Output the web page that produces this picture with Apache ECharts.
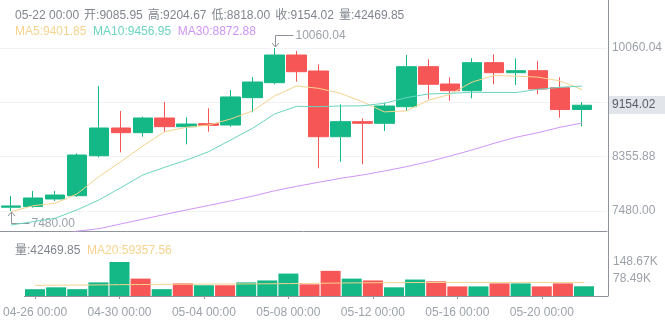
<!DOCTYPE html>
<html>
<head>
<meta charset="utf-8">
<script src="https://cdn.jsdelivr.net/npm/echarts@6/dist/echarts.min.js"></script>
<style>
  html, body { margin: 0; padding: 0; background: #ffffff; }
  #chart { width: 665px; height: 329px; }
</style>
</head>
<body>
<div id="chart"></div>
<script>
// Daily candles, 04-26 .. 05-22
const dates = [
  '04-26 00:00', '04-27 00:00', '04-28 00:00', '04-29 00:00', '04-30 00:00',
  '05-01 00:00', '05-02 00:00', '05-03 00:00', '05-04 00:00', '05-05 00:00',
  '05-06 00:00', '05-07 00:00', '05-08 00:00', '05-09 00:00', '05-10 00:00',
  '05-11 00:00', '05-12 00:00', '05-13 00:00', '05-14 00:00', '05-15 00:00',
  '05-16 00:00', '05-17 00:00', '05-18 00:00', '05-19 00:00', '05-20 00:00',
  '05-21 00:00', '05-22 00:00'
];
const openPrices = [
  7540, 7552, 7670, 7722, 8355, 8794, 8720, 8952, 8814, 8862,
  8841, 9274, 9511, 9949, 9696, 8656, 8894, 8868, 9131, 9764,
  9490, 9384, 9828, 9669, 9701, 9432, 9085.95
];
const closePrices = [
  7560, 7686, 7733, 8366, 8794, 8720, 8952, 8815, 8857, 8836,
  9285, 9522, 9949, 9685, 8656, 8894, 8868, 9142, 9764, 9486,
  9384, 9828, 9669, 9701, 9411, 9086, 9154.02
];
const lowPrices = [
  7480.00, 7532, 7638, 7706, 8330, 8409, 8656, 8731, 8536, 8735,
  8814, 9042, 9486, 9527, 8156, 8260, 8219, 8746, 9063, 9248,
  9226, 9264, 9486, 9475, 9327, 8957, 8818.00
];
const highPrices = [
  7717, 7797, 7797, 8393, 9459, 9063, 8973, 9205, 8963, 9106,
  9395, 9601, 10060.04, 10013, 9802, 9169, 8947, 9194, 9949, 9881,
  9596, 9897, 9961, 9897, 9854, 9596, 9204.67
];
const volumes = [
  29700, 38000, 30000, 59500, 148670, 76000, 30000, 55000, 47000, 47000,
  59500, 68000, 98000, 51000, 110000, 76000, 68000, 38000, 72000, 64000,
  42000, 42000, 55000, 55000, 42000, 55000, 42469.85
];
const ma5 = [
  7469, 7564, 7602, 7749, 8023, 8260, 8509, 8735, 8805, 8841,
  8936, 9063, 9300, 9459, 9422, 9343, 9210, 9049, 9065, 9231,
  9329, 9521, 9626, 9614, 9599, 9539, 9401.85
];
const ma10 = [
  7258, 7311, 7364, 7496, 7654, 7849, 8050, 8172, 8287, 8419,
  8604, 8789, 9015, 9137, 9131, 9142, 9145, 9185, 9274, 9332,
  9343, 9359, 9355, 9355, 9406, 9438, 9456.95
];
const ma30 = [
  6960, 7020, 7080, 7160, 7200, 7275, 7350, 7425, 7497, 7568,
  7640, 7715, 7800, 7870, 7934, 7997, 8050, 8113, 8181, 8260,
  8351, 8446, 8552, 8647, 8720, 8805, 8872.88
];
const volMa20 = [
  46700, 47200, 47800, 48500, 49500, 50200, 50800, 51300, 51800, 52300,
  52800, 53400, 54200, 55000, 56200, 57200, 57900, 58400, 58800, 59000,
  59200, 59300, 59300, 59400, 59300, 59300, 59357.56
];
const priceTickLabels = ['7480.00', '8355.88', '', '10060.04'];
const volumeTickLabels = ['78.49K', '148.67K'];
const dateTickIndex = [0, 4, 8, 12, 16, 20, 24];

const UP = '#14b886';
const DOWN = '#f65656';
const FRAME = '#8f949c';
const AXIS_TEXT = '#9da2aa';
const HEAD_TEXT = '#80858e';
const SPLIT = '#f1f2f4';
const C_MA5 = '#f5d38e';
const C_MA10 = '#6cd4c1';
const C_MA30 = '#cf95f7';
const FONT = "'Liberation Sans', 'Noto Sans CJK SC', sans-serif";

const last = dates.length - 1;
const lo = Math.min(...lowPrices);
const hi = Math.max(...highPrices);
const loIdx = lowPrices.indexOf(lo);
const hiIdx = highPrices.indexOf(hi);
const span = hi - lo;
const pad = span * 20 / 163;
const priceGridValues = [0, 1, 2, 3].map(k => lo + span * k / 3);
const volMax = Math.max(...volumes);
const volGridValues = [volMax / 2, volMax];

const xMin = -0.5;
const xMax = last + 0.5 + 14 / 22;

const candleData = dates.map((d, i) => [i, openPrices[i], closePrices[i], lowPrices[i], highPrices[i]]);
const toLine = arr => arr.map((v, i) => [i, v]);
const volumeData = volumes.map((v, i) => ({
  value: [i, v],
  itemStyle: { color: closePrices[i] >= openPrices[i] ? UP : DOWN }
}));

function pickLabel(values, labels) {
  return function (v) {
    for (let k = 0; k < values.length; k++) {
      if (Math.abs(values[k] - v) < 1e-6 * Math.max(1, Math.abs(v))) return labels[k];
    }
    return '';
  };
}

const f2 = v => Number(v).toFixed(2);
const headItems = [
  dates[last],
  '开:' + f2(openPrices[last]),
  '高:' + f2(highPrices[last]),
  '低:' + f2(lowPrices[last]),
  '收:' + f2(closePrices[last]),
  '量:' + f2(volumes[last])
];
const headLine = headItems.map((t, k) => '{' + (k < headItems.length - 1 ? 's' : 'e') + '|' + t + '}').join('');

const chart = echarts.init(document.getElementById('chart'), null, { renderer: 'canvas' });

chart.setOption({
  animation: false,
  backgroundColor: '#ffffff',
  textStyle: { fontFamily: FONT },
  grid: [
    { left: 0, right: 57, top: 28, height: 203 },
    { left: 0, right: 57, top: 245, height: 51 }
  ],
  xAxis: [
    {
      type: 'value', gridIndex: 0, min: xMin, max: xMax,
      axisLine: { show: true, onZero: false, lineStyle: { color: FRAME, width: 1 } },
      axisTick: { show: false }, axisLabel: { show: false }, splitLine: { show: false }
    },
    {
      type: 'value', gridIndex: 1, min: xMin, max: xMax,
      axisLine: { show: true, onZero: false, lineStyle: { color: FRAME, width: 1 } },
      axisTick: { show: true, length: 3, customValues: dateTickIndex, lineStyle: { color: FRAME } },
      axisLabel: {
        customValues: dateTickIndex, margin: 11, color: AXIS_TEXT, fontSize: 12, fontFamily: FONT,
        formatter: v => dates[Math.round(v)] || ''
      },
      splitLine: { show: false }
    }
  ],
  yAxis: [
    {
      type: 'value', gridIndex: 0, position: 'right', min: lo - pad, max: hi + pad, scale: true,
      axisLine: { show: false },
      axisTick: { show: false, customValues: priceGridValues },
      axisLabel: {
        customValues: priceGridValues, margin: 5, color: AXIS_TEXT, fontSize: 12, fontFamily: FONT,
        formatter: pickLabel(priceGridValues, priceTickLabels)
      },
      splitLine: { show: true, lineStyle: { color: SPLIT, width: 1 } }
    },
    {
      type: 'value', gridIndex: 1, position: 'right', min: 0, max: volMax * 1.5,
      axisLine: { show: false },
      axisTick: { show: false, customValues: volGridValues },
      axisLabel: {
        customValues: volGridValues, margin: 5, color: AXIS_TEXT, fontSize: 12, fontFamily: FONT,
        formatter: pickLabel(volGridValues, volumeTickLabels)
      },
      splitLine: { show: true, showMinLine: false, showMaxLine: false, lineStyle: { color: SPLIT, width: 1 } }
    }
  ],
  series: [
    {
      name: 'K', type: 'candlestick', xAxisIndex: 0, yAxisIndex: 0,
      dimensions: ['idx', 'open', 'close', 'lowest', 'highest'],
      encode: { x: 0, y: [1, 2, 3, 4] },
      barWidth: 20,
      data: candleData,
      itemStyle: { color: UP, color0: DOWN, borderColor: UP, borderColor0: DOWN, borderWidth: 1 }
    },
    { name: 'MA5', type: 'line', xAxisIndex: 0, yAxisIndex: 0, data: toLine(ma5), symbol: 'none',
      lineStyle: { color: C_MA5, width: 1 }, itemStyle: { color: C_MA5 } },
    { name: 'MA10', type: 'line', xAxisIndex: 0, yAxisIndex: 0, data: toLine(ma10), symbol: 'none',
      lineStyle: { color: C_MA10, width: 1 }, itemStyle: { color: C_MA10 } },
    { name: 'MA30', type: 'line', xAxisIndex: 0, yAxisIndex: 0, data: toLine(ma30), symbol: 'none',
      lineStyle: { color: C_MA30, width: 1 }, itemStyle: { color: C_MA30 } },
    {
      // high / low callouts with arrow and value text
      name: 'extremes', type: 'custom', xAxisIndex: 0, yAxisIndex: 0, silent: true, clip: false,
      encode: { x: 0, y: 1 },
      data: [[hiIdx, hi, 1], [loIdx, lo, -1]],
      renderItem: function (params, api) {
        const v = api.value(1);
        const dir = api.value(2);
        const p = api.coord([api.value(0), v]);
        const x = Math.round(p[0]) + 0.5;
        const tip = dir > 0 ? p[1] - 1 : p[1] + 1;
        const elbowY = Math.round(dir > 0 ? p[1] - 13 : p[1] + 12) + 0.5;
        const ah = dir > 0 ? -4 : 4;
        return {
          type: 'group',
          children: [
            { type: 'polyline', shape: { points: [[x + 18, elbowY], [x, elbowY], [x, tip]] },
              style: { stroke: FRAME, fill: null, lineWidth: 1 } },
            { type: 'polyline', shape: { points: [[x - 3.5, tip + ah], [x, tip], [x + 3.5, tip + ah]] },
              style: { stroke: FRAME, fill: null, lineWidth: 1 } },
            { type: 'text', x: x + 20, y: elbowY,
              style: { text: f2(v), fill: AXIS_TEXT, fontSize: 12, fontFamily: FONT, verticalAlign: 'middle' } }
          ]
        };
      }
    },
    {
      // last-price tag on the right price scale
      name: 'lastPrice', type: 'custom', xAxisIndex: 0, yAxisIndex: 0, silent: true, clip: false,
      encode: { x: 0, y: 1 },
      data: [[xMax, closePrices[last]]],
      renderItem: function (params, api) {
        const v = api.value(1);
        const p = api.coord([api.value(0), v]);
        const x = Math.round(p[0]) + 2;
        const y = Math.round(p[1]);
        return {
          type: 'group',
          children: [
            { type: 'rect', shape: { x: x, y: y - 9, width: 57, height: 18 },
              style: { fill: '#e2e5e9' } },
            { type: 'text', x: x + 3, y: y,
              style: { text: f2(v), fill: '#575e6a', fontSize: 12, fontFamily: FONT, verticalAlign: 'middle' } }
          ]
        };
      }
    },
    {
      name: 'VOL', type: 'bar', xAxisIndex: 1, yAxisIndex: 1, barWidth: 20,
      data: volumeData
    },
    { name: 'MA20', type: 'line', xAxisIndex: 1, yAxisIndex: 1, data: toLine(volMa20), symbol: 'none',
      lineStyle: { color: C_MA5, width: 1 }, itemStyle: { color: C_MA5 } }
  ],
  graphic: [
    { type: 'line', shape: { x1: 608.5, y1: 0, x2: 608.5, y2: 296 },
      style: { stroke: FRAME, lineWidth: 1 }, silent: true },
    { type: 'text', x: 15, y: 16,
      style: {
        text: headLine, fontSize: 12, fontFamily: FONT, verticalAlign: 'middle',
        rich: {
          s: { fill: HEAD_TEXT, fontSize: 12, fontFamily: FONT, padding: [0, 5, 0, 0] },
          e: { fill: HEAD_TEXT, fontSize: 12, fontFamily: FONT }
        }
      } },
    { type: 'text', x: 15, y: 32,
      style: {
        text: '{a|MA5:' + f2(ma5[last]) + '}  {b|MA10:' + f2(ma10[last]) + '}  {c|MA30:' + f2(ma30[last]) + '}',
        fontSize: 12, fontFamily: FONT, verticalAlign: 'middle',
        rich: {
          a: { fill: C_MA5, fontSize: 12, fontFamily: FONT },
          b: { fill: C_MA10, fontSize: 12, fontFamily: FONT },
          c: { fill: C_MA30, fontSize: 12, fontFamily: FONT }
        }
      } },
    { type: 'text', x: 15, y: 251,
      style: {
        text: '{a|量:' + f2(volumes[last]) + '}  {b|MA20:' + f2(volMa20[last]) + '}',
        fontSize: 12, fontFamily: FONT, verticalAlign: 'middle',
        rich: {
          a: { fill: HEAD_TEXT, fontSize: 12, fontFamily: FONT },
          b: { fill: C_MA5, fontSize: 12, fontFamily: FONT }
        }
      } }
  ]
});
</script>
</body>
</html>
